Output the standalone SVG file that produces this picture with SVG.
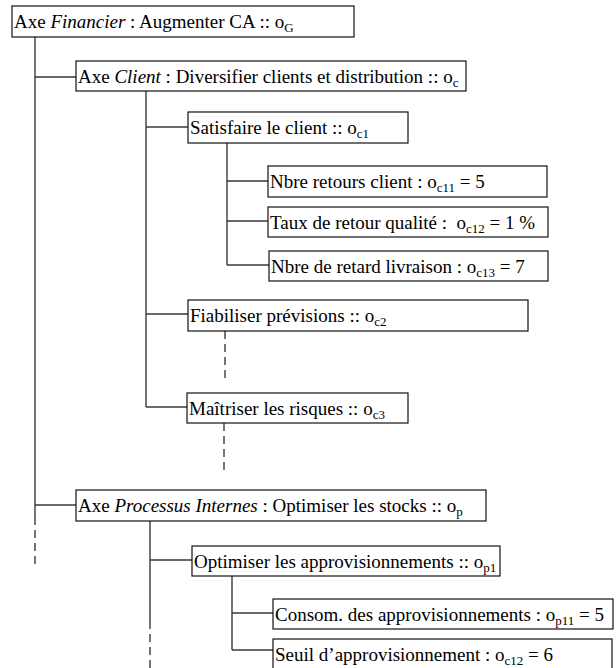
<svg xmlns="http://www.w3.org/2000/svg" width="616" height="668" viewBox="0 0 616 668">
<style>
  .box { fill: #fff; stroke: #111; stroke-width: 1.2; }
  .t { font-family: 'Liberation Serif', 'Times New Roman', serif; font-size: 19px; fill: #000; white-space: pre; }
  .s { font-size: 13px; }
  .c { stroke: #3a3a3a; stroke-width: 1.4; fill: none; }
  .d { stroke: #3a3a3a; stroke-width: 1.4; fill: none; stroke-dasharray: 8 5; }
</style>
<rect width="616" height="668" fill="#fff"/>
<g id="connectors">
  <path class="c" d="M35 37 V517 M35 77 H76 M35 505 H76"/>
  <path class="d" d="M35 517 V565"/>
  <path class="c" d="M146 91 V407 M146 127 H188 M146 314 H188 M146 407 H187"/>
  <path class="c" d="M227 143 V265 M227 181 H268 M227 221 H268 M227 265 H269"/>
  <path class="d" d="M225 331 V378 M224 423 V473"/>
  <path class="c" d="M150 521 V621 M150 560 H192"/>
  <path class="d" d="M150 621 V668"/>
  <path class="c" d="M232 576 V650 M232 613 H273 M232 650 H273"/>
</g>
<g id="n-financier">
  <rect class="box" x="12" y="6" width="342" height="31"/>
  <text class="t" x="14" y="28">Axe <tspan font-style="italic">Financier</tspan> : Augmenter CA :: o<tspan class="s" dy="4">G</tspan></text>
</g>
<g id="n-client">
  <rect class="box" x="76" y="61" width="390" height="30"/>
  <text class="t" x="78" y="83">Axe <tspan font-style="italic">Client</tspan> : Diversifier clients et distribution :: o<tspan class="s" dy="4">c</tspan></text>
</g>
<g id="n-satisfaire">
  <rect class="box" x="188" y="112" width="220" height="31"/>
  <text class="t" x="190" y="134">Satisfaire le client :: o<tspan class="s" dy="4">c1</tspan></text>
</g>
<g id="n-retours">
  <rect class="box" x="268" y="166" width="279" height="31"/>
  <text class="t" x="270" y="188">Nbre retours client : o<tspan class="s" dy="4">c11</tspan><tspan dy="-4"> = 5</tspan></text>
</g>
<g id="n-taux">
  <rect class="box" x="268" y="207" width="280" height="30"/>
  <text class="t" x="270" y="229">Taux de retour qualité :  o<tspan class="s" dy="4">c12</tspan><tspan dy="-4"> = 1 %</tspan></text>
</g>
<g id="n-retard">
  <rect class="box" x="269" y="251" width="279" height="30"/>
  <text class="t" x="271" y="273">Nbre de retard livraison : o<tspan class="s" dy="4">c13</tspan><tspan dy="-4"> = 7</tspan></text>
</g>
<g id="n-fiabiliser">
  <rect class="box" x="188" y="300" width="340" height="31"/>
  <text class="t" x="190" y="322">Fiabiliser prévisions :: o<tspan class="s" dy="4">c2</tspan></text>
</g>
<g id="n-maitriser">
  <rect class="box" x="187" y="393" width="221" height="30"/>
  <text class="t" x="189" y="415">Maîtriser les risques :: o<tspan class="s" dy="4">c3</tspan></text>
</g>
<g id="n-processus">
  <rect class="box" x="76" y="490" width="410" height="31"/>
  <text class="t" x="78" y="512">Axe <tspan font-style="italic">Processus Internes</tspan> : Optimiser les stocks :: o<tspan class="s" dy="4">p</tspan></text>
</g>
<g id="n-optimiser">
  <rect class="box" x="192" y="546" width="308" height="30"/>
  <text class="t" x="194" y="568">Optimiser les approvisionnements :: o<tspan class="s" dy="4">p1</tspan></text>
</g>
<g id="n-consom">
  <rect class="box" x="273" y="599" width="340" height="30"/>
  <text class="t" x="275" y="621">Consom. des approvisionnements : o<tspan class="s" dy="4">p11</tspan><tspan dy="-4"> = 5</tspan></text>
</g>
<g id="n-seuil">
  <rect class="box" x="273" y="639" width="339" height="31"/>
  <text class="t" x="275" y="661">Seuil d’approvisionnement : o<tspan class="s" dy="4">c12</tspan><tspan dy="-4"> = 6</tspan></text>
</g>
</svg>
